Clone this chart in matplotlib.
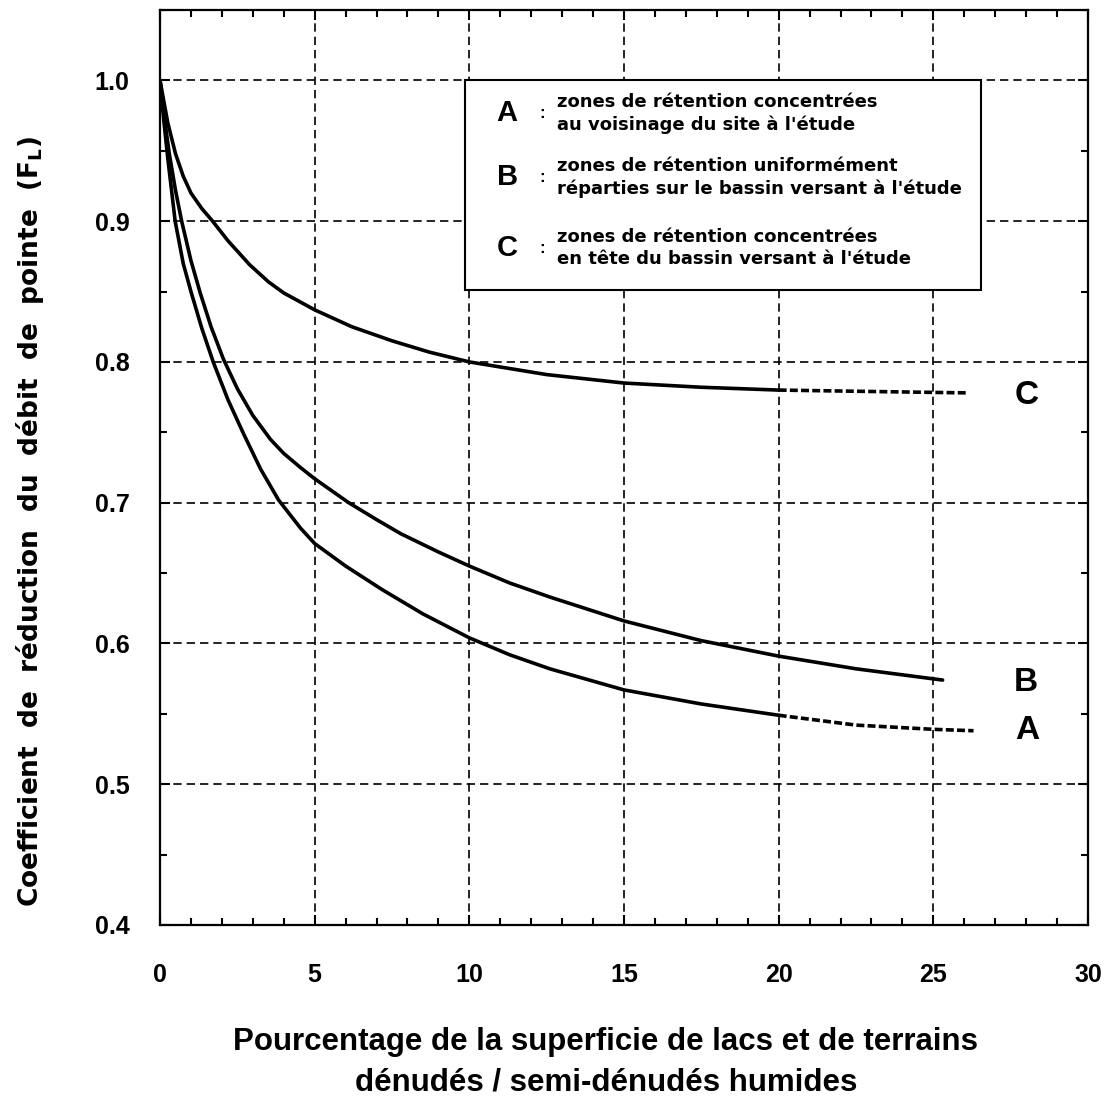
import matplotlib
matplotlib.use('Agg')
import matplotlib.pyplot as plt
from matplotlib.patches import Rectangle
from matplotlib.ticker import MultipleLocator

plt.rcParams['font.family'] = ['Liberation Sans', 'DejaVu Sans']
plt.rcParams['font.weight'] = 'bold'

# curve A : retention zones near the site
a_x = [0, 0.12, 0.25, 0.49, 0.75, 1.0, 1.35, 1.72, 2.2, 2.7, 3.25, 3.83, 4.54, 5,
       6, 7.2, 8.5, 10, 11.3, 12.6, 15, 17.5, 20]
a_y = [1.0, 0.972, 0.945, 0.9, 0.87, 0.85, 0.824, 0.8, 0.773, 0.749, 0.724, 0.702, 0.682, 0.671,
       0.655, 0.638, 0.621, 0.604, 0.592, 0.582, 0.567, 0.557, 0.549]
a_dash_x = [20, 22.5, 25, 26.3]
a_dash_y = [0.549, 0.542, 0.539, 0.538]

# curve B : uniformly spread retention zones
b_x = [0, 0.15, 0.3, 0.5, 0.7, 1.0, 1.3, 1.65, 2.05, 2.5, 3.0, 3.57, 4.0, 4.54, 5,
       6.1, 7.0, 7.78, 9, 10, 11.3, 12.6, 15, 17.5, 20, 22.5, 25.3]
b_y = [1.0, 0.972, 0.948, 0.922, 0.9, 0.872, 0.849, 0.825, 0.802, 0.781, 0.762, 0.745, 0.735, 0.725, 0.717,
       0.7, 0.688, 0.678, 0.665, 0.655, 0.643, 0.633, 0.616, 0.602, 0.591, 0.582, 0.574]

# curve C : retention zones at the head of the basin
c_x = [0, 0.25, 0.5, 0.75, 1.0, 1.35, 1.7, 2.2, 2.9, 3.5, 4.0, 5, 6.2, 7.5, 8.7, 10,
       12.5, 15, 17.5, 20]
c_y = [1.0, 0.97, 0.948, 0.932, 0.92, 0.909, 0.9, 0.886, 0.869, 0.857, 0.849, 0.837, 0.825, 0.815, 0.807, 0.8,
       0.791, 0.785, 0.782, 0.780]
c_dash_x = [20, 23, 26.1]
c_dash_y = [0.780, 0.779, 0.778]

legend_letters = ['A', 'B', 'C']
legend_texts = ['zones de rétention concentrées\nau voisinage du site à l\'étude',
                'zones de rétention uniformément\nréparties sur le bassin versant à l\'étude',
                'zones de rétention concentrées\nen tête du bassin versant à l\'étude']

fig = plt.figure(figsize=(11.17, 11.01), dpi=100)
ax = fig.add_axes([160 / 1117, 1 - 925 / 1101, 928 / 1117, 915 / 1101])

ax.set_xlim(0, 30)
ax.set_ylim(0.4, 1.05)
ax.set_xticks([0, 5, 10, 15, 20, 25, 30])
ax.set_yticks([0.4, 0.5, 0.6, 0.7, 0.8, 0.9, 1.0])
ax.set_yticklabels(['0.4', '0.5', '0.6', '0.7', '0.8', '0.9', '1.0'])
ax.xaxis.set_minor_locator(MultipleLocator(1))
ax.yaxis.set_minor_locator(MultipleLocator(0.05))
ax.tick_params(which='both', direction='in', top=True, right=True, width=1.5)
ax.tick_params(which='major', length=7)
ax.tick_params(which='minor', length=5)
ax.tick_params(axis='x', which='major', labelsize=18, pad=27)
ax.tick_params(axis='y', which='major', labelsize=18, pad=47)
for lab in ax.get_yticklabels():
    lab.set_ha('left')
for s in ax.spines.values():
    s.set_linewidth(1.6)

ax.grid(True, which='major', color='black', linestyle=(0, (5, 3)), linewidth=1.2)
ax.set_axisbelow(True)

lw = 2.6
ax.plot(a_x, a_y, color='black', lw=lw, solid_capstyle='round', solid_joinstyle='round', zorder=3)
ax.plot(a_dash_x, a_dash_y, color='black', lw=lw, linestyle=(0, (2.2, 0.9)), zorder=3)
ax.plot(b_x, b_y, color='black', lw=lw, solid_capstyle='round', solid_joinstyle='round', zorder=3)
ax.plot(c_x, c_y, color='black', lw=lw, solid_capstyle='round', solid_joinstyle='round', zorder=3)
ax.plot(c_dash_x, c_dash_y, color='black', lw=lw, linestyle=(0, (2.2, 0.9)), zorder=3)

# legend box
ax.add_patch(Rectangle((9.87, 0.851), 16.68, 0.149, facecolor='white',
                       edgecolor='black', linewidth=1.5, zorder=2.5))
letter_y = [0.9766, 0.9311, 0.8807]
for let, txt, yy in zip(legend_letters, legend_texts, letter_y):
    ax.text(11.22, yy, let, fontsize=21, ha='center', va='center', zorder=4)
    ax.text(12.35, yy, ':', fontsize=12, ha='center', va='center', zorder=4)
    ax.text(12.84, yy, txt, fontsize=13, ha='left', va='center', linespacing=1.3, zorder=4,
            family=['DejaVu Sans'])

# curve labels
ax.text(28.0, 0.7763, 'C', fontsize=24, ha='center', va='center')
ax.text(28.0, 0.5724, 'B', fontsize=24, ha='center', va='center')
ax.text(28.05, 0.5384, 'A', fontsize=24, ha='center', va='center')

fig.text(30 / 1117, 1 - 522 / 1101, 'Coefficient  de  réduction  du  débit  de  pointe  (F$_\\mathregular{L}$)',
         rotation=90, ha='center', va='center', fontsize=19, family=['DejaVu Sans'])
fig.text(606 / 1117, 1 - 1062 / 1101,
         'Pourcentage de la superficie de lacs et de terrains\ndénudés / semi-dénudés humides',
         ha='center', va='center', fontsize=22.5, linespacing=1.45)

fig.savefig('out.png', dpi=100)
